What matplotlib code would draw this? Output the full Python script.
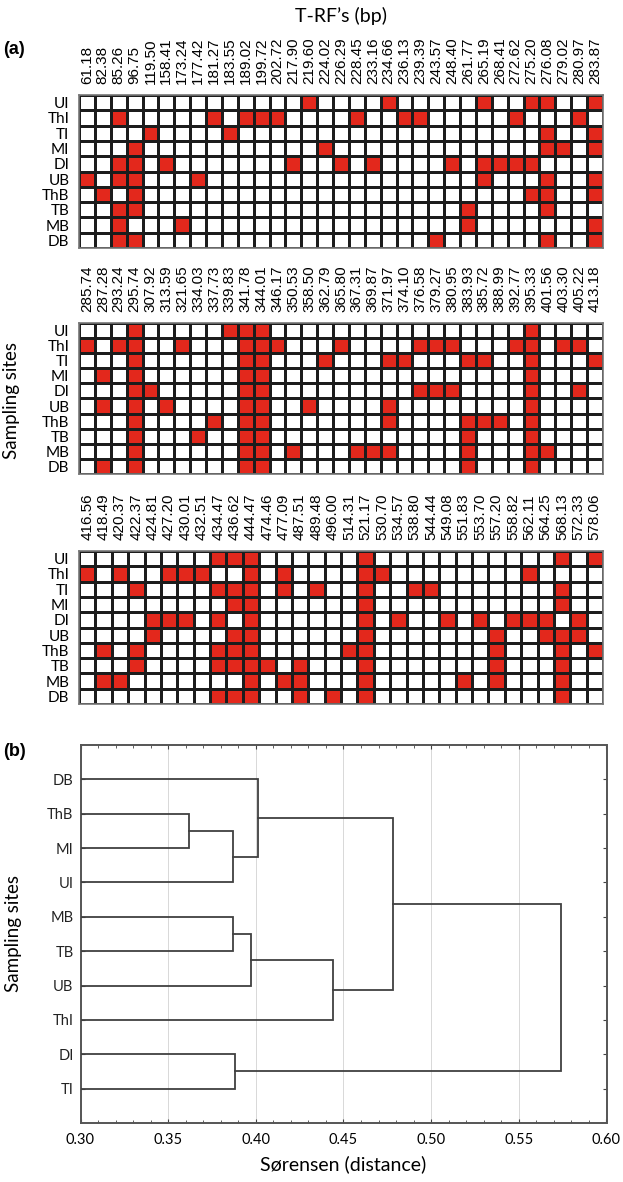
import matplotlib
matplotlib.use('Agg')
import matplotlib.pyplot as plt
import numpy as np
from matplotlib.colors import ListedColormap

RED = '#e3281c'
SITES = ['UI', 'ThI', 'TI', 'MI', 'DI', 'UB', 'ThB', 'TB', 'MB', 'DB']

# T-RF sizes (bp), one list per block of panel (a)
TRF_1 = ['61.18', '82.38', '85.26', '96.75', '119.50', '158.41', '173.24', '177.42',
         '181.27', '183.55', '189.02', '199.72', '202.72', '217.90', '219.60', '224.02',
         '226.29', '228.45', '233.16', '234.66', '236.13', '239.39', '243.57', '248.40',
         '261.77', '265.19', '268.41', '272.62', '275.20', '276.08', '279.02', '280.97',
         '283.87']
TRF_2 = ['285.74', '287.28', '293.24', '295.74', '307.92', '313.59', '321.65', '334.03',
         '337.73', '339.83', '341.78', '344.01', '346.17', '350.53', '358.50', '362.79',
         '365.80', '367.31', '369.87', '371.97', '374.10', '376.58', '379.27', '380.95',
         '383.93', '385.72', '388.99', '392.77', '395.33', '401.56', '403.30', '405.22',
         '413.18']
TRF_3 = ['416.56', '418.49', '420.37', '422.37', '424.81', '427.20', '430.01', '432.51',
         '434.47', '436.62', '444.47', '474.46', '477.09', '487.51', '489.48', '496.00',
         '514.31', '521.17', '530.70', '534.57', '538.80', '544.44', '549.08', '551.83',
         '553.70', '557.20', '558.82', '562.11', '564.25', '568.13', '572.33', '578.06']

# column indices of T-RFs present at each site
PRESENT_1 = {
    'UI': [14, 19, 25, 28, 29, 32],
    'ThI': [2, 8, 10, 11, 12, 17, 20, 21, 27, 31],
    'TI': [4, 9, 29, 32],
    'MI': [3, 15, 29, 30, 32],
    'DI': [2, 3, 5, 13, 16, 18, 23, 25, 26, 27, 28],
    'UB': [0, 2, 3, 7, 25, 29, 32],
    'ThB': [1, 3, 28, 29, 32],
    'TB': [2, 3, 24, 29],
    'MB': [2, 6, 24, 32],
    'DB': [2, 3, 22, 29, 32],
}
PRESENT_2 = {
    'UI': [3, 9, 10, 11, 28],
    'ThI': [0, 2, 3, 6, 10, 11, 12, 16, 21, 22, 23, 27, 28, 30, 31],
    'TI': [3, 10, 11, 15, 19, 20, 24, 25, 28, 32],
    'MI': [1, 3, 10, 11, 28],
    'DI': [3, 4, 10, 11, 21, 22, 23, 28, 31],
    'UB': [1, 3, 5, 10, 11, 14, 19, 28],
    'ThB': [3, 8, 10, 11, 19, 24, 25, 26, 28],
    'TB': [3, 7, 10, 11, 24, 28],
    'MB': [3, 10, 11, 13, 17, 18, 19, 24, 28, 29],
    'DB': [1, 3, 10, 11, 24, 28],
}
PRESENT_3 = {
    'UI': [8, 9, 10, 17, 29, 31],
    'ThI': [0, 2, 5, 6, 7, 10, 12, 17, 18, 27],
    'TI': [3, 8, 9, 10, 12, 14, 17, 20, 21, 29],
    'MI': [9, 10, 17, 29],
    'DI': [4, 5, 6, 8, 10, 17, 19, 22, 24, 26, 27, 28, 30],
    'UB': [4, 9, 10, 17, 25, 28, 29, 30],
    'ThB': [1, 3, 8, 9, 10, 16, 17, 25, 29, 31],
    'TB': [3, 8, 9, 10, 11, 13, 17, 25, 29],
    'MB': [1, 2, 10, 12, 13, 17, 23, 25, 29],
    'DB': [8, 9, 10, 13, 15, 17, 29],
}

# dendrogram (panel b): leaf order top to bottom and merges (left, right, distance)
LEAF_ORDER = ['DB', 'ThB', 'MI', 'UI', 'MB', 'TB', 'UB', 'ThI', 'DI', 'TI']
MERGES = [
    ('ThB', 'MI', 0.362),
    ('c0', 'UI', 0.387),
    ('DB', 'c1', 0.401),
    ('MB', 'TB', 0.387),
    ('c3', 'UB', 0.397),
    ('c4', 'ThI', 0.444),
    ('c2', 'c5', 0.478),
    ('DI', 'TI', 0.388),
    ('c6', 'c7', 0.574),
]

W, H = 623, 1182
fig = plt.figure(figsize=(W / 100, H / 100), dpi=100)


def box(x0, y0, x1, y1):
    # pixel box (top-left origin) -> figure fraction
    return [x0 / W, 1 - y1 / H, (x1 - x0) / W, (y1 - y0) / H]


def draw_block(ax, labels, present):
    n = len(labels)
    mat = np.zeros((len(SITES), n))
    for i, s in enumerate(SITES):
        mat[i, present[s]] = 1
    ax.pcolormesh(mat, cmap=ListedColormap(['white', RED]), vmin=0, vmax=1,
                  edgecolors='#1c1c1c', linewidth=0.8)
    ax.set_xlim(0, n)
    ax.set_ylim(len(SITES), 0)
    ax.set_xticks(np.arange(n) + 0.5)
    ax.set_xticklabels(labels, rotation=90, fontsize=11, family='Liberation Sans')
    ax.xaxis.tick_top()
    ax.set_yticks(np.arange(len(SITES)) + 0.5)
    ax.set_yticklabels(SITES, fontsize=11, family='Lato')
    ax.tick_params(axis='x', length=0, pad=8)
    ax.tick_params(axis='y', length=0, pad=7)
    for sp in ax.spines.values():
        sp.set_color('#777777')
        sp.set_linewidth(1.2)


ax1 = fig.add_axes(box(79, 95, 603, 248))
draw_block(ax1, TRF_1, PRESENT_1)
ax2 = fig.add_axes(box(79, 323, 603, 474))
draw_block(ax2, TRF_2, PRESENT_2)
ax3 = fig.add_axes(box(79, 551, 603, 704))
draw_block(ax3, TRF_3, PRESENT_3)

fig.text(341 / W, 1 - 16 / H, "T-RF\u2019s (bp)", ha='center', va='center',
         fontsize=14, family='Lato')
fig.text(3 / W, 1 - 49 / H, '(a)', ha='left', va='center', fontsize=13,
         fontweight='bold', family='Liberation Sans')
fig.text(12 / W, 1 - 401 / H, 'Sampling sites', rotation=90, ha='center',
         va='center', fontsize=13.5, family='Lato')

# ---- panel (b) dendrogram ----
axd = fig.add_axes(box(80.5, 745, 606.5, 1123))
pos = {name: (i + 1, 0.30) for i, name in enumerate(LEAF_ORDER)}
for k, (a, b, h) in enumerate(MERGES):
    ya, xa = pos[a]
    yb, xb = pos[b]
    axd.plot([xa, h, h, xb], [ya, ya, yb, yb], color='#404040', lw=1.3,
             solid_joinstyle='miter', zorder=3)
    pos['c%d' % k] = ((ya + yb) / 2, h)

axd.set_xlim(0.30, 0.60)
axd.set_ylim(len(LEAF_ORDER) + 1, 0)
axd.set_xticks(np.arange(0.30, 0.601, 0.05))
axd.set_xticklabels(['%.2f' % v for v in np.arange(0.30, 0.601, 0.05)],
                    fontsize=10.5, family='Lato')
axd.set_xticks(np.arange(0.30, 0.601, 0.01), minor=True)
axd.set_yticks(np.arange(1, len(LEAF_ORDER) + 1))
axd.set_yticklabels(LEAF_ORDER, fontsize=10.5, family='Lato', color='#222222')
axd.tick_params(axis='both', which='both', direction='in', top=True, right=True,
                color='#444444')
axd.tick_params(axis='x', which='major', length=3, pad=7)
axd.tick_params(axis='x', which='minor', length=2)
axd.tick_params(axis='y', length=3, pad=5)
axd.grid(axis='x', color='#d8d8d8', lw=0.7)
axd.set_axisbelow(True)
for sp in axd.spines.values():
    sp.set_color('#555555')
    sp.set_linewidth(1.4)
axd.set_xlabel('S\u00f8rensen (distance)', fontsize=14, family='Lato', labelpad=6)

fig.text(3 / W, 1 - 751 / H, '(b)', ha='left', va='center', fontsize=13,
         fontweight='bold', family='Liberation Sans')
fig.text(14 / W, 1 - 933 / H, 'Sampling sites', rotation=90, ha='center',
         va='center', fontsize=13.5, family='Lato')

fig.savefig('out.png', dpi=100)
plt.close(fig)
